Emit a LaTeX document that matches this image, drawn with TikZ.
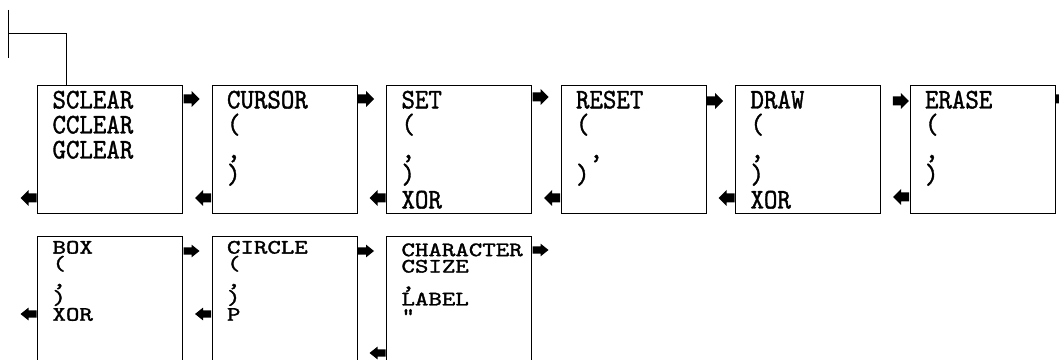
\documentclass[tikz,border=0pt]{standalone}
\usepackage{fontspec}
\setmonofont{lmmono10-regular.otf}[FakeBold=1.3, FakeStretch=0.9]
\usepackage{tikz}
\usetikzlibrary{positioning,shapes.arrows}

\begin{document}
\begin{tikzpicture}[
  x=1pt, y=1pt,
  line width=1pt,
  cmdbox/.style={draw, rectangle, inner sep=0pt, minimum width=145pt, minimum height=128pt},
  lowbox/.style={cmdbox, minimum height=140pt},
  txt/.style={font=\ttfamily\fontsize{28.5}{25}\selectfont, align=left, inner sep=0pt, anchor=north west},
  lowtxt/.style={txt, font=\ttfamily\fontsize{28.5}{22.8}\selectfont, yscale=0.72, transform shape},
  rarr/.style={single arrow, fill=black, draw=none, inner xsep=0pt, inner ysep=4pt,
    minimum height=16pt, single arrow head extend=3.5pt, anchor=tail},
  larr/.style={rarr, shape border rotate=180},
  lowrarr/.style={rarr, yscale=0.8, transform shape},
  lowlarr/.style={larr, yscale=0.8, transform shape}
]
\clip (0,0) rectangle (1059,359);

% first row
\node[cmdbox, anchor=north west] (b1) at (37,274) {};
\node[cmdbox, right=28.5pt of b1] (b2) {};
\node[cmdbox, right=28.5pt of b2] (b3) {};
\node[cmdbox, right=28.5pt of b3] (b4) {};
\node[cmdbox, right=28.5pt of b4] (b5) {};
\node[cmdbox, right=28.5pt of b5] (b6) {};

% second row
\node[lowbox, below=22pt of b1] (b7) {};
\node[lowbox, right=28.5pt of b7] (b8) {};
\node[lowbox, right=28.5pt of b8] (b9) {};

% texts
\node[txt] (t1) at ([shift={(15,-5.2)}]b1.north west) {SCLEAR\\CCLEAR\\GCLEAR};
\node[txt] (t2) at ([shift={(15,-5.2)}]b2.north west) {CURSOR\\(\\,\\)};
\node[txt] (t3) at ([shift={(15,-5.2)}]b3.north west) {SET\\(\\,\\)\\XOR};
\node[txt] (t4) at ([shift={(15,-5.2)}]b4.north west) {RESET\\(\\\hphantom{(},\\)};
\node[txt] (t5) at ([shift={(15,-5.2)}]b5.north west) {DRAW\\(\\,\\)\\XOR};
\node[txt] (t6) at ([shift={(15,-5.2)}]b6.north west) {ERASE\\(\\,\\)};
\node[lowtxt] (t7) at ([shift={(15,-4.5)}]b7.north west) {BOX\\(\\,\\)\\XOR};
\node[lowtxt] (t8) at ([shift={(15,-4.5)}]b8.north west) {CIRCLE\\(\\,\\)\\P};
\node[lowtxt] (t9) at ([shift={(15,-7)}]b9.north west) {CHARACTER\\CSIZE\\,\\LABEL\\“};

% way out of each box
\node[rarr] (r1) at ([yshift=-14pt]b1.north east) {};
\node[rarr] (r2) at ([yshift=-14pt]b2.north east) {};
\node[rarr] (r3) at ([yshift=-12pt]b3.north east) {};
\node[rarr] (r4) at ([yshift=-16pt]b4.north east) {};
\node[rarr, anchor=tip] (r5) at ([yshift=-16pt]b6.north west) {};
\node[rarr] (r6) at ([yshift=-14pt]b6.north east) {};
\node[lowrarr] (r7) at ([yshift=-15pt]b7.north east) {};
\node[lowrarr] (r8) at ([yshift=-15pt]b8.north east) {};
\node[lowrarr] (r9) at ([yshift=-14pt]b9.north east) {};

% way back
\node[larr] (l1) at ([yshift=16pt]b1.south west) {};
\node[larr] (l2) at ([yshift=16pt]b2.south west) {};
\node[larr] (l3) at ([yshift=16pt]b3.south west) {};
\node[larr] (l4) at ([yshift=16pt]b4.south west) {};
\node[larr] (l5) at ([yshift=16pt]b5.south west) {};
\node[larr] (l6) at ([yshift=17pt]b6.south west) {};
\node[lowlarr] (l7) at ([yshift=-78pt]b7.north west) {};
\node[lowlarr] (l8) at ([yshift=-78pt]b8.north west) {};
\node[lowlarr] (l9) at ([yshift=-117pt]b9.north west) {};

% entry line
\coordinate (bustop) at (8,349);
\coordinate (busbot) at (8,301);
\coordinate (tap) at (8,325);
\coordinate (in1) at ([xshift=29pt]b1.north west);
\draw (bustop) -- (busbot);
\draw (tap) -| (in1);
\end{tikzpicture}
\end{document}
